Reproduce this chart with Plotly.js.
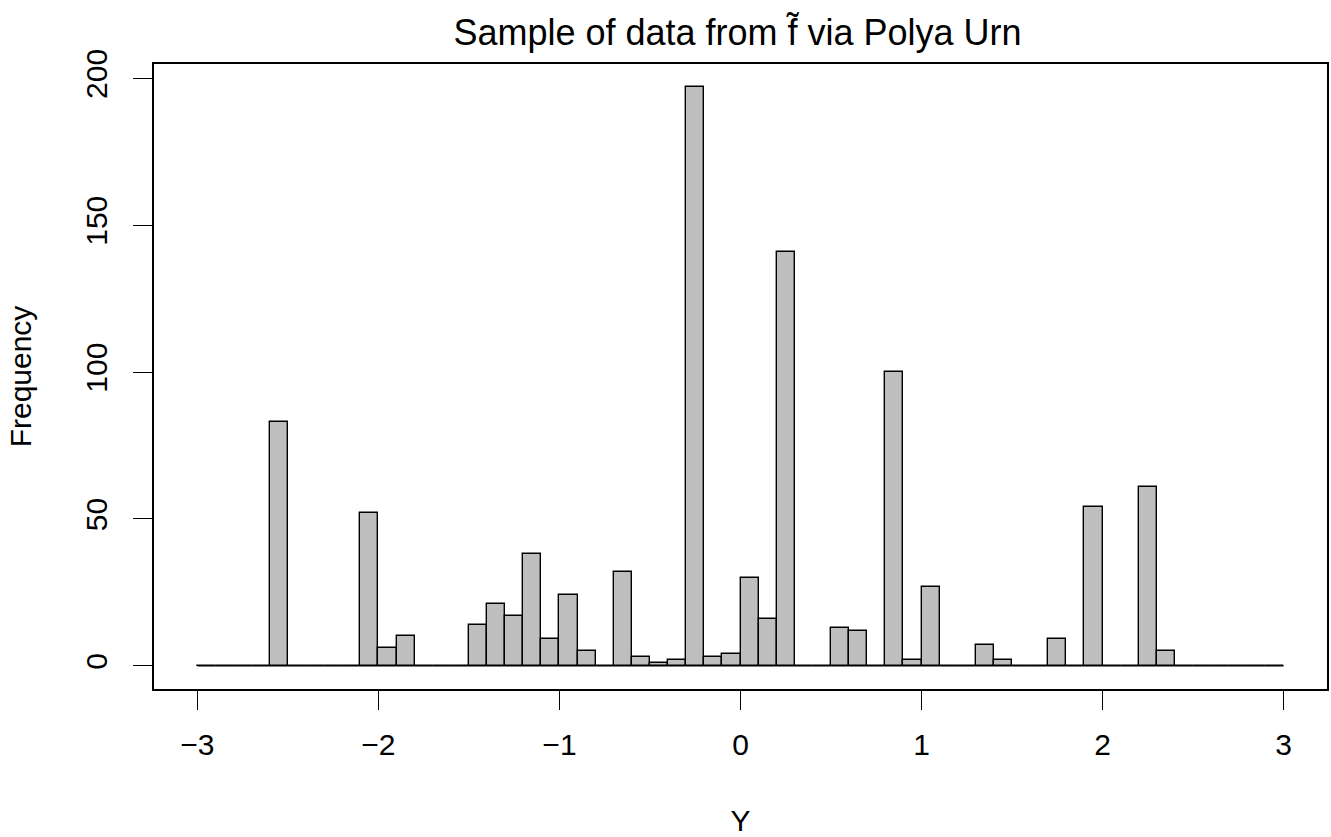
<!DOCTYPE html>
<html>
<head>
<meta charset="utf-8">
<script src="https://cdn.plot.ly/plotly-3.0.1.min.js"></script>
<style>
  html, body { margin: 0; padding: 0; background: #ffffff; }
  #chart { width: 1331px; height: 837px; }
</style>
</head>
<body>
<div id="chart"></div>
<script>
// Histogram breaks: 60 bins of width 0.1 spanning [-3, 3]
const breakStart = -3;
const binWidth = 0.1;

// Frequency in each bin, left to right
const counts = [
  0, 0, 0, 0, 83, 0, 0, 0, 0, 52,
  6, 10, 0, 0, 0, 14, 21, 17, 38, 9,
  24, 5, 0, 32, 3, 1, 2, 197, 3, 4,
  30, 16, 141, 0, 0, 13, 12, 0, 100, 2,
  27, 0, 0, 7, 2, 0, 0, 9, 0, 54,
  0, 0, 61, 5, 0, 0, 0, 0, 0, 0
];

const xTicks = [-3, -2, -1, 0, 1, 2, 3];
const yTicks = [0, 50, 100, 150, 200];

const titleText = 'Sample of data from f\u0303 via Polya Urn';
const xTitle = 'Y';
const yTitle = 'Frequency';

// Bin centres and edges derived from the breaks
const centers = counts.map((_, i) => breakStart + binWidth * (i + 0.5));
const firstEdge = breakStart;
const lastEdge = breakStart + binWidth * counts.length;

const FONT = 'Liberation Sans, Arial, Helvetica, sans-serif';
const barFill = '#BEBEBE';

const bars = {
  type: 'bar',
  x: centers,
  y: counts,
  width: binWidth,
  marker: { color: barFill, line: { color: '#000000', width: 1.4 } },
  hoverinfo: 'x+y',
  showlegend: false
};

// Empty bins collapse to a line along zero
const baseline = {
  type: 'scatter',
  mode: 'lines',
  x: [firstEdge, lastEdge],
  y: [0, 0],
  line: { color: '#000000', width: 1.4 },
  hoverinfo: 'skip',
  showlegend: false
};

const maxCount = Math.max(...counts);
const xPad = (lastEdge - firstEdge) * 0.04;
const yPad = maxCount * 0.04;

const layout = {
  width: 1331,
  height: 837,
  paper_bgcolor: '#ffffff',
  plot_bgcolor: '#ffffff',
  margin: { l: 154, r: 4, t: 64, b: 148, pad: 0 },
  font: { family: FONT, size: 30, color: '#000000' },
  title: {
    text: titleText,
    font: { family: FONT, size: 36, color: '#000000' },
    x: 0.5 + (154 - 4) / 2 / 1331 - 3 / 1331,
    xanchor: 'center',
    y: 1 - 32 / 837,
    yanchor: 'middle',
    yref: 'container'
  },
  xaxis: {
    range: [firstEdge - xPad, lastEdge + xPad],
    tickmode: 'array',
    tickvals: xTicks,
    ticks: 'outside',
    ticklen: 19,
    tickwidth: 1.4,
    tickcolor: '#000000',
    ticklabelstandoff: 9,
    showline: true,
    mirror: true,
    linecolor: '#000000',
    linewidth: 1.6,
    showgrid: false,
    zeroline: false,
    tickfont: { family: FONT, size: 30, color: '#000000' },
    title: { text: xTitle, font: { family: FONT, size: 30, color: '#000000' }, standoff: 50 }
  },
  yaxis: {
    range: [-yPad, maxCount + yPad],
    tickmode: 'array',
    tickvals: yTicks,
    tickangle: -90,
    ticks: 'outside',
    ticklen: 19,
    tickwidth: 1.4,
    tickcolor: '#000000',
    ticklabelstandoff: 14,
    showline: true,
    mirror: true,
    linecolor: '#000000',
    linewidth: 1.6,
    showgrid: false,
    zeroline: false,
    tickfont: { family: FONT, size: 30, color: '#000000' },
    title: { text: yTitle, font: { family: FONT, size: 30, color: '#000000' }, standoff: 40 }
  },
  bargap: 0
};

Plotly.newPlot('chart', [bars, baseline], layout, { displayModeBar: false, responsive: false });
</script>
</body>
</html>
